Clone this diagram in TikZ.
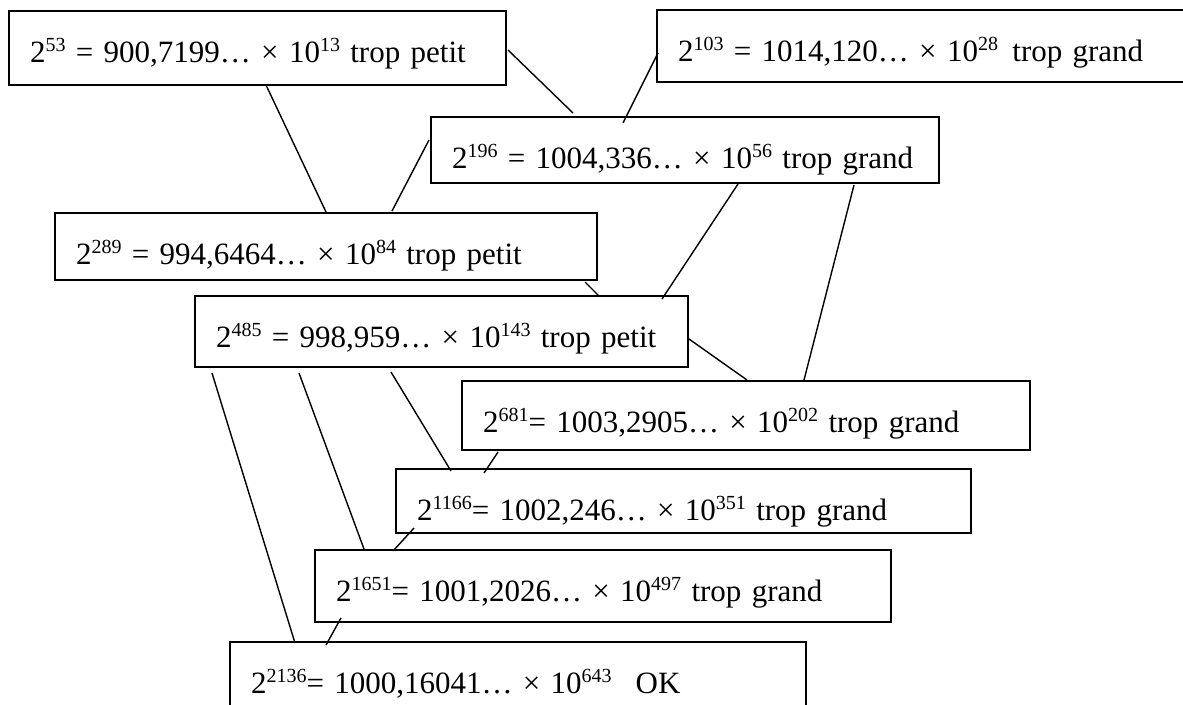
\documentclass[tikz,border=0pt]{standalone}
\usepackage{fontspec}
\setmainfont{Liberation Serif}[WordSpace=0.8]
\usepackage{tikz}
\usetikzlibrary{positioning,calc}
\newcommand{\expo}[1]{\raisebox{11pt}{\fontsize{20}{20}\selectfont #1}}
\tikzstyle{essai} = [rectangle, draw=black, line width=1.8pt, anchor=north west, outer sep=0pt,
    inner xsep=21pt, inner ysep=0pt, text height=51pt, align=left, font=\fontsize{31}{37}\selectfont]
\tikzstyle{lien} = [line width=1.4pt, black]

\begin{document}
\begin{tikzpicture}[x=1pt,y=-1pt]
\useasboundingbox (0,0) rectangle (1183,704);
\node[essai, text width=455pt, text depth=23pt] (p53) at (9,11) {\mbox{2\expo{53} = 900,7199… × 10\expo{13} trop petit}};
\node[essai, text width=491pt, text depth=21pt] (p103) at (657,10) {\mbox{2\expo{103} = 1014,120… × 10\expo{28}\hspace{4pt} trop grand}};
\node[essai, text width=466pt, text depth=15pt] (p196) at (431,117) {\mbox{2\expo{196} = 1004,336… × 10\expo{56} trop grand}};
\node[essai, text width=500pt, text depth=16pt] (p289) at (55,213) {\mbox{2\expo{289} = 994,6464… × 10\expo{84} trop petit}};
\node[essai, text width=451pt, text depth=20pt] (p485) at (195,296) {\mbox{2\expo{485} = 998,959… × 10\expo{143} trop petit}};
\node[essai, text width=526pt, text depth=18pt] (p681) at (462,381) {\mbox{2\expo{681}= 1003,2905… × 10\expo{202} trop grand}};
\node[essai, text width=533pt, text depth=13pt] (p1166) at (396,469) {\mbox{2\expo{1166}= 1002,246… × 10\expo{351} trop grand}};
\node[essai, text width=534pt, text depth=21pt] (p1651) at (315,550) {\mbox{2\expo{1651}= 1001,2026… × 10\expo{497} trop grand}};
\node[essai, text width=534pt, text depth=49pt] (p2136) at (230,642) {\mbox{2\expo{2136}= 1000,16041… × 10\expo{643}\hspace{24pt}OK}};

\draw[lien] ([shift={(499,39)}]p53.north west) -- ([shift={(142,-4)}]p196.north west);
\draw[lien] ([shift={(1,43)}]p103.north west) -- ([shift={(192,6)}]p196.north west);
\draw[lien] ([shift={(257,74)}]p53.north west) -- ([shift={(271,-1)}]p289.north west);
\draw[lien] ([shift={(-2,23)}]p196.north west) -- ([shift={(337,-2)}]p289.north west);
\draw[lien] ([shift={(307,67)}]p196.north west) -- ([shift={(467,3)}]p485.north west);
\draw[lien] ([shift={(423,68)}]p196.north west) -- ([shift={(342,-1)}]p681.north west);
\draw[lien] ([shift={(530,69)}]p289.north west) -- ([shift={(404,0)}]p485.north west);
\draw[lien] ([shift={(494,43)}]p485.north west) -- ([shift={(285,-1)}]p681.north west);
\draw[lien] ([shift={(196,76)}]p485.north west) -- ([shift={(55,2)}]p1166.north west);
\draw[lien] ([shift={(36,71)}]p681.north west) -- ([shift={(88,4)}]p1166.north west);
\draw[lien] ([shift={(104,77)}]p485.north west) -- ([shift={(49,-1)}]p1651.north west);
\draw[lien] ([shift={(18,59)}]p1166.north west) -- ([shift={(78,1)}]p1651.north west);
\draw[lien] ([shift={(17,77)}]p485.north west) -- ([shift={(65,1)}]p2136.north west);
\draw[lien] ([shift={(26,68)}]p1651.north west) -- ([shift={(96,3)}]p2136.north west);
\end{tikzpicture}
\end{document}
